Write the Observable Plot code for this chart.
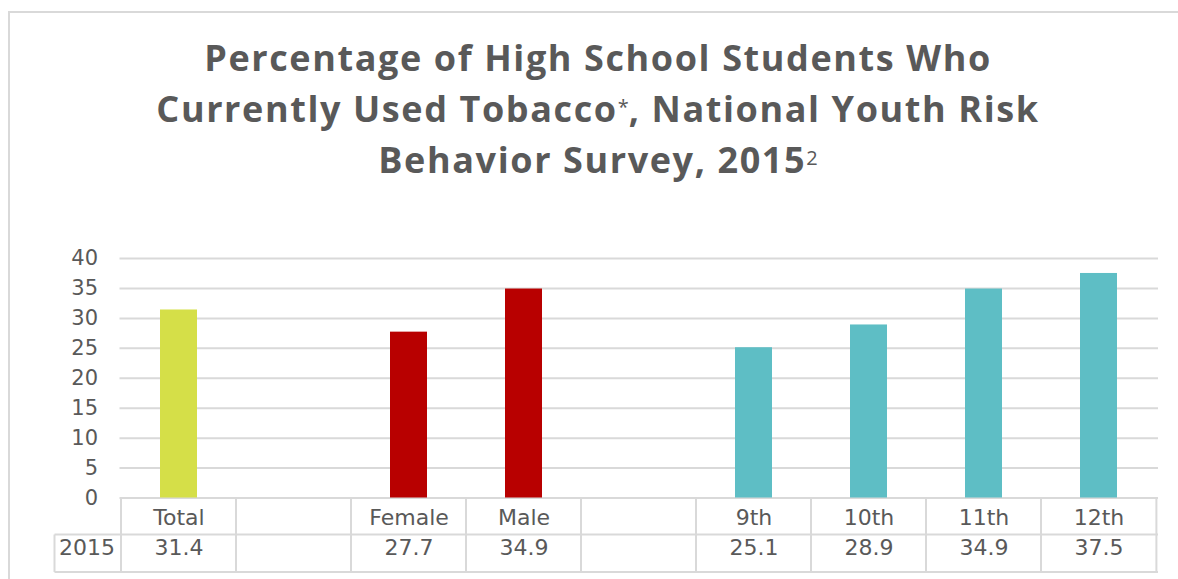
<!DOCTYPE html>
<html>
<head>
<meta charset="utf-8">
<script src="https://cdn.jsdelivr.net/npm/d3@7"></script>
<script src="https://cdn.jsdelivr.net/npm/@observablehq/plot@0.6"></script>
<style>
  html, body { margin: 0; padding: 0; background: #fff; width: 1178px; height: 579px; overflow: hidden; }
  #frame { position: absolute; left: 8px; top: 11px; width: 1200px; height: 600px;
           border-left: 2px solid #d9d9d9; border-top: 2px solid #d9d9d9; box-sizing: border-box; }
  #title { position: absolute; left: 0; top: 33px; width: 1196px; text-align: center;
           font-family: "Open Sans", sans-serif; font-weight: 700; font-size: 36px; line-height: 49px;
           letter-spacing: 1.6px; color: #595959; }
  #title .sup { font-size: 20px; font-weight: 400; vertical-align: 8px; letter-spacing: 0; }
  #chart { position: absolute; left: 0; top: 200px; }
</style>
</head>
<body>
<div id="frame"></div>
<div id="title">Percentage of High School Students Who<br>Currently Used Tobacco<span class="sup">*</span>, National Youth Risk<br>Behavior Survey, 2015<span class="sup">2</span></div>
<div id="chart"></div>
<script>
const keys = ["Total", "gap1", "Female", "Male", "gap2", "9th", "10th", "11th", "12th"];
const labels = ["Total", "", "Female", "Male", "", "9th", "10th", "11th", "12th"];
const values2015 = [31.4, null, 27.7, 34.9, null, 25.1, 28.9, 34.9, 37.5];
const groups = ["Total", null, "Sex", "Sex", null, "Grade", "Grade", "Grade", "Grade"];
const groupNames = ["Total", "Sex", "Grade"];
const groupColors = ["#D5DF48", "#B80000", "#5EBEC5"];
const yTicks = [0, 5, 10, 15, 20, 25, 30, 35, 40];
const seriesName = "2015";

const labelOf = new Map(keys.map((k, i) => [k, labels[i]]));
const rows = keys.map((k, i) => ({key: k, value: values2015[i], group: groups[i]}));
const barRows = rows.filter(d => d.value != null);

const W = 1178, H = 379;
const mL = 119.5, mR = 20, mT = 58, mB = 81.5;
const font = "'DejaVu Sans', sans-serif";
const textColor = "#595959";
const lineColor = "#d9d9d9";

function tableLines(index, scales, values, dims) {
  const x = scales.x;
  const bw = (dims.width - dims.marginLeft - dims.marginRight) / keys.length;
  const y0 = dims.height - dims.marginBottom;
  const r1 = y0 + 37, r2 = y0 + 74.5;
  const left2 = dims.marginLeft - 65;
  const right = dims.width - dims.marginRight;
  const g = d3.create("svg:g").attr("stroke", lineColor).attr("stroke-width", 2).attr("fill", "none");
  g.append("line").attr("x1", left2).attr("x2", right).attr("y1", r1).attr("y2", r1);
  g.append("line").attr("x1", left2).attr("x2", right).attr("y1", r2).attr("y2", r2);
  g.append("line").attr("x1", left2).attr("x2", left2).attr("y1", r1).attr("y2", r2);
  const bounds = keys.map(k => x(k)).concat([x(keys[keys.length - 1]) + bw]);
  for (const b of bounds) {
    g.append("line").attr("x1", b).attr("x2", b).attr("y1", y0).attr("y2", r2);
  }
  return g.node();
}

const chart = Plot.plot({
  width: W,
  height: H,
  marginLeft: mL,
  marginRight: mR,
  marginTop: mT,
  marginBottom: mB,
  style: {fontFamily: font, fontSize: "21px", color: textColor, background: "transparent"},
  x: {domain: keys, padding: 0, axis: null},
  y: {domain: [0, 40], ticks: yTicks, axis: null},
  color: {domain: groupNames, range: groupColors},
  marks: [
    Plot.gridY(yTicks, {stroke: lineColor, strokeOpacity: 1, strokeWidth: 2}),
    Plot.axisY(yTicks, {tickSize: 0, tickPadding: 22, fontSize: 21, fill: textColor, label: null}),
    Plot.barY(barRows, {x: "key", y: "value", fill: "group", insetLeft: 39, insetRight: 39}),
    tableLines,
    Plot.axisX(keys, {tickSize: 0, tickPadding: 11, tickFormat: k => labelOf.get(k), fontSize: 22, fill: textColor, label: null}),
    Plot.text(rows, {x: "key", text: d => d.value == null ? "" : d.value.toFixed(1), frameAnchor: "bottom", dy: 56.5, fontSize: 22, fill: textColor}),
    Plot.text([seriesName], {text: d => d, frameAnchor: "bottom-left", dx: -33, dy: 56.5, textAnchor: "middle", fontSize: 22, fill: textColor})
  ]
});
document.getElementById("chart").appendChild(chart);
</script>
</body>
</html>
